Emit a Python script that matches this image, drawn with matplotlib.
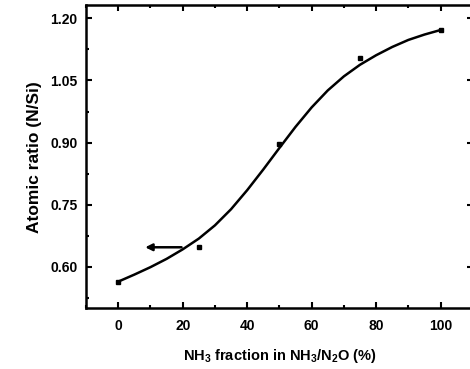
import matplotlib
matplotlib.use('Agg')
import matplotlib.pyplot as plt
from matplotlib.ticker import MultipleLocator

# measured points
nh3_frac = [0, 25, 50, 75, 100]
ratio = [0.564, 0.647, 0.897, 1.105, 1.172]

# fitted curve
fit_x = [0, 5, 10, 15, 20, 25, 30, 35, 40, 45, 50, 55, 60, 65, 70, 75, 80, 85, 90, 95, 100]
fit_y = [0.564, 0.581, 0.599, 0.619, 0.642, 0.668, 0.700, 0.739, 0.785, 0.835, 0.887,
         0.938, 0.985, 1.026, 1.060, 1.088, 1.111, 1.131, 1.148, 1.161, 1.172]

# arrow marker (tail, head)
arrow_x = [20.5, 7.5]
arrow_y = 0.647

xticks = [0, 20, 40, 60, 80, 100]
yticks = [0.60, 0.75, 0.90, 1.05, 1.20]

plt.rcParams['font.family'] = ['Liberation Sans', 'DejaVu Sans']
plt.rcParams['font.weight'] = 'bold'
plt.rcParams['mathtext.fontset'] = 'custom'
plt.rcParams['mathtext.rm'] = 'Liberation Sans:bold'
plt.rcParams['mathtext.bf'] = 'Liberation Sans:bold'
plt.rcParams['mathtext.default'] = 'bf'

fig = plt.figure(figsize=(4.7, 3.69), dpi=100)
ax = fig.add_axes([0.183, 0.165, 0.823, 0.821])

ax.plot(fit_x, fit_y, color='black', lw=1.8)
ax.plot(nh3_frac, ratio, 's', color='black', ms=3.5)
ax.annotate('', xy=(arrow_x[1], arrow_y), xytext=(arrow_x[0], arrow_y),
            arrowprops=dict(arrowstyle='-|>', color='black', lw=1.8,
                            mutation_scale=10))

ax.set_xlim(-10, 110)
ax.set_ylim(0.50, 1.232)
ax.set_xticks(xticks)
ax.set_yticks(yticks)
ax.set_yticklabels(['%.2f' % v for v in yticks])
ax.xaxis.set_minor_locator(MultipleLocator(10))
ax.yaxis.set_minor_locator(MultipleLocator(0.075))
ax.tick_params(which='both', direction='in', top=True, right=True, width=1.5,
               labelsize=10)
ax.tick_params(which='major', length=4)
ax.tick_params(which='minor', length=2.5)
ax.tick_params(axis='x', pad=8)
ax.tick_params(axis='y', pad=6)
for s in ax.spines.values():
    s.set_linewidth(1.8)

ax.set_ylabel('Atomic ratio (N/Si)', fontsize=12.5, fontweight='bold', labelpad=6)
ax.set_xlabel(r'NH$_3$ fraction in NH$_3$/N$_2$O (%)', fontsize=10.5,
              fontweight='bold', labelpad=10)

fig.savefig('out.png', dpi=100)
